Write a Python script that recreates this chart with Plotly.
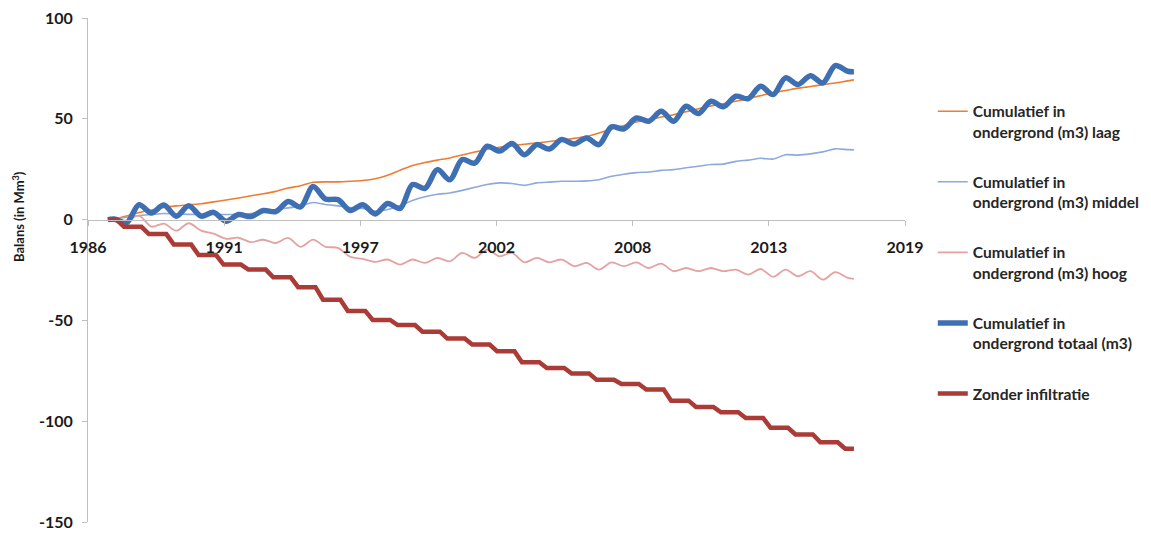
import plotly.graph_objects as go

# ---- time grid (decimal years), semi-annual samples ----
sample_years = [1987.3, 1987.55] + [y + f for y in range(1988, 2017) for f in (0.05, 0.55)] + [2017.05, 2017.3]

# ---- series values (Mm3), one per sample ----
laag = [0, 0.3, 1.8, 3.5, 4.8, 6.0, 6.8, 7.3, 7.9, 8.8, 9.7, 10.7, 11.8, 12.8, 14.0, 15.7,
        16.8, 18.5, 18.7, 18.7, 19.0, 19.4, 20.3, 22.0, 24.5, 26.8, 28.3, 29.5, 30.6, 32.0,
        33.5, 34.9, 35.9, 36.6, 37.4, 38.0, 38.7, 39.5, 40.3, 41.3, 43.0, 45.0, 46.7, 48.4,
        49.5, 50.9, 52.0, 53.5, 55.0, 56.4, 57.5, 58.7, 60.0, 61.5, 63.0, 64.0, 65.2, 66.0,
        66.9, 67.8, 68.8, 69.3]
middel = [0, 0.3, 1.2, 2.0, 2.5, 3.0, 2.8, 2.6, 2.5, 2.5, 2.5, 2.6, 3.0, 4.0, 5.0, 5.8,
          6.8, 8.5, 7.5, 6.8, 6.0, 5.5, 4.2, 5.0, 7.0, 9.5, 11.3, 12.6, 13.2, 14.5,
          16.0, 17.4, 18.2, 17.9, 17.0, 18.2, 18.6, 19.0, 19.0, 19.2, 19.8, 21.5, 22.5, 23.3,
          23.6, 24.4, 24.8, 25.7, 26.5, 27.3, 27.5, 28.9, 29.5, 30.4, 30.0, 32.2, 32.0, 32.6,
          33.6, 35.1, 34.7, 34.6]
hoog = [0, 0, -0.5, 2.0, -3.5, -2.0, -5.5, -1.8, -5.5, -7.0, -9.5, -9.0, -11.2, -10.0, -11.6, -9.1,
        -13.5, -9.9, -13.5, -14.0, -18.5, -19.5, -21.0, -19.8, -22.3, -19.8, -21.5, -19.0, -20.7, -16.5,
        -19.0, -14.9, -18.2, -16.5, -21.2, -19.0, -21.2, -19.8, -23.1, -21.5, -24.8, -21.2, -23.1, -21.2,
        -24.0, -21.8, -25.6, -24.0, -25.6, -24.0, -25.6, -24.8, -27.3, -24.5, -28.4, -24.8, -28.1, -25.6,
        -29.8, -26.1, -28.9, -29.4]
totaal = [0, 0.3, -1.6, 7.4, 3.3, 7.2, 1.7, 6.9, 1.7, 3.6, -0.8, 2.5, 1.5, 4.5, 4.0, 9.0,
          6.3, 16.4, 10.2, 9.9, 4.5, 7.4, 2.8, 8.0, 5.5, 17.4, 15.5, 24.8, 19.8, 29.8,
          28.0, 36.4, 34.0, 37.7, 32.2, 37.2, 35.0, 39.7, 37.5, 40.5, 37.2, 46.0, 45.0, 50.4,
          48.8, 53.7, 48.8, 56.2, 52.6, 58.7, 56.0, 61.2, 60.0, 66.1, 62.0, 70.3, 67.0, 71.4,
          67.8, 76.4, 73.6, 73.4]

# ---- "Zonder infiltratie": yearly level (Mm3), staircase ----
zonder_years = list(range(1987, 2018))
zonder_levels = [0, -3.6, -7.2, -12.4, -17.6, -22.3, -24.8, -28.6, -33.5, -39.7, -45.3,
                 -49.8, -52.3, -55.6, -59.0, -62.0, -65.3, -70.8, -73.6, -76.4, -79.4,
                 -81.5, -84.3, -89.8, -92.9, -95.6, -98.4, -103.3, -106.6, -110.5, -113.7]
data_start, data_end = 1987.3, 2017.3

# ---- axis ticks ----
tick_labels = ["1986", "1991", "1997", "2002", "2008", "2013", "2019"]
tick_step_years = 2000 / 365.25
tick_vals = [1986.5 + i * tick_step_years for i in range(len(tick_labels))]
y_ticks = [-150, -100, -50, 0, 50, 100]
y_tick_labels = ["-150", "-100", "-50", "0", "50", "100"]

# staircase rendering of yearly levels (flat part then short slanted drop)
zx, zy = [], []
for yr, lv in zip(zonder_years, zonder_levels):
    start = data_start if yr == zonder_years[0] else yr - 0.05
    end = data_end if yr == zonder_years[-1] else yr + 0.65
    zx += [start, end]
    zy += [lv, lv]

FONT = "Lato"
fig = go.Figure()
legend_names = ["Cumulatief in<br>ondergrond (m3) laag",
                "Cumulatief in<br>ondergrond (m3) middel",
                "Cumulatief in<br>ondergrond (m3) hoog",
                "Cumulatief in<br>ondergrond totaal (m3)",
                "Zonder infiltratie"]
fig.add_trace(go.Scatter(x=sample_years, y=laag, mode="lines", name=legend_names[0],
                         line=dict(color="#ED7D31", width=1.6, shape="spline", smoothing=0.6),
                         legendgroup="a"))
fig.add_trace(go.Scatter(x=sample_years, y=middel, mode="lines", name=legend_names[1],
                         line=dict(color="#8EA9DB", width=1.6, shape="spline", smoothing=0.6),
                         legendgroup="b"))
fig.add_trace(go.Scatter(x=sample_years, y=hoog, mode="lines", name=legend_names[2],
                         line=dict(color="#E4A3A1", width=1.8, shape="spline", smoothing=0.9),
                         legendgroup="c"))
fig.add_trace(go.Scatter(x=sample_years, y=totaal, mode="lines", name=legend_names[3],
                         line=dict(color="#3F6FB3", width=5.5, shape="spline", smoothing=0.9),
                         legendgroup="d"))
fig.add_trace(go.Scatter(x=zx, y=zy, mode="lines", name=legend_names[4],
                         line=dict(color="#AA3B36", width=4.5),
                         legendgroup="e"))

fig.update_layout(
    width=1143, height=526,
    margin=dict(l=80, r=246, t=10, b=12, autoexpand=False),
    paper_bgcolor="white", plot_bgcolor="white",
    font=dict(family=FONT, color="#1a1a1a"),
    showlegend=True,
    legend=dict(x=1.034, y=0.848, xanchor="left", yanchor="top",
                font=dict(family=FONT, size=15.6, color="#262626", weight="bold"),
                valign="top", tracegroupgap=27, bgcolor="rgba(0,0,0,0)"),
    xaxis=dict(range=[1986.5, tick_vals[-1]], tickvals=tick_vals, ticktext=tick_labels,
               showgrid=False, zeroline=False, showline=True, linecolor="#BFBFBF", linewidth=1,
               ticks="outside", ticklen=5, tickcolor="#BFBFBF", automargin=False,
               anchor="free", position=150 / 250, ticklabelstandoff=8,
               ticklabeloverflow="allow",
               tickfont=dict(family=FONT, size=16, color="#1a1a1a", weight="bold")),
    yaxis=dict(range=[-150, 100], tickvals=y_ticks, ticktext=y_tick_labels, automargin=False,
               showgrid=False, zeroline=False, showline=True, linecolor="#BFBFBF", linewidth=1,
               ticks="outside", ticklen=5, tickcolor="#BFBFBF", ticklabelstandoff=6,
               ticklabeloverflow="allow",
               tickfont=dict(family=FONT, size=16, color="#1a1a1a", weight="bold")),
    annotations=[dict(text="Balans (in Mm<sup>3</sup>)", textangle=-90, xref="paper", yref="paper",
                      x=(18 - 88) / 817, y=(522 - 217) / 504, xanchor="center", yanchor="middle",
                      showarrow=False, font=dict(family=FONT, size=13, color="#1a1a1a", weight="bold"))],
)
fig.write_html("out.html")
